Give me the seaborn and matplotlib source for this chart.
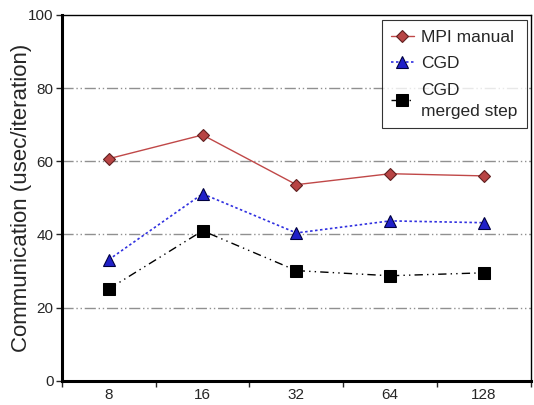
import numpy as np
import pandas as pd
import matplotlib
matplotlib.use("Agg")
import matplotlib.pyplot as plt
import seaborn as sns

# Data
procs = ["8", "16", "32", "64", "128"]
mpi_manual = [60.7, 67.2, 53.6, 56.6, 56.0]
cgd = [33.1, 51.1, 40.4, 43.7, 43.2]
cgd_merged = [25.1, 41.0, 30.1, 28.7, 29.5]

sns.set_style("white")
plt.rcParams['font.family'] = ['Liberation Sans', 'DejaVu Sans']

fig, ax = plt.subplots(figsize=(5.34, 4.05), dpi=100)
fig.subplots_adjust(left=0.116, right=0.994, top=0.963, bottom=0.06)

pos = np.arange(len(procs))
df = pd.DataFrame({"pos": pos, "mpi": mpi_manual, "cgd": cgd, "merged": cgd_merged})

sns.lineplot(data=df, x="pos", y="mpi", ax=ax, color="#c04848", lw=1.0,
             marker="D", markersize=6, markerfacecolor="#b84444",
             markeredgecolor="#602020", markeredgewidth=0.8, label="MPI manual")
sns.lineplot(data=df, x="pos", y="cgd", ax=ax, color="#3030e0", lw=1.2, linestyle=(0, (1.5, 1.5)),
             marker="^", markersize=8, markerfacecolor="#2020c8",
             markeredgecolor="#000040", markeredgewidth=0.8, label="CGD")
sns.lineplot(data=df, x="pos", y="merged", ax=ax, color="black", lw=1.0,
             linestyle=(0, (6, 3, 1, 3, 1, 3)),
             marker="s", markersize=8, markerfacecolor="black",
             markeredgecolor="black", label="CGD\nmerged step")

# gridlines (dash-dot-dot gray)
for yv in [20, 40, 60, 80]:
    ax.axhline(yv, color="#909090", lw=1.0, linestyle=(0, (8, 2, 1, 2, 1, 2)), zorder=0)

ax.set_xlim(-0.5, len(procs) - 0.5)
ax.set_ylim(0, 100)
ax.set_yticks([0, 20, 40, 60, 80, 100])
ax.set_xticks(pos)
ax.set_xticklabels(procs)
ax.set_xticks(np.arange(-0.5, len(procs), 1.0), minor=True)
ax.tick_params(axis="x", which="major", length=0, labelsize=11, pad=5)
ax.tick_params(axis="x", which="minor", length=4, width=1, direction="out", bottom=True)
ax.tick_params(axis="y", length=4, width=1, direction="out", left=True, labelsize=11, pad=2)
ax.set_xlabel("")
ax.set_ylabel("Communication (usec/iteration)", fontsize=16)
ax.yaxis.set_label_coords(-0.064, 0.5)

for side in ["left", "bottom"]:
    ax.spines[side].set_linewidth(2.2)
    ax.spines[side].set_color("black")
for side in ["top", "right"]:
    ax.spines[side].set_linewidth(1.0)
    ax.spines[side].set_color("black")

leg = ax.legend(loc="upper right", fontsize=12.5, frameon=True, fancybox=False,
                edgecolor="black", handlelength=1.3, handletextpad=0.4,
                borderpad=0.55, labelspacing=0.65, borderaxespad=0,
                bbox_to_anchor=(0.991, 0.986))
leg.get_frame().set_linewidth(0.8)
for t in leg.get_texts():
    t.set_linespacing(1.5)

fig.savefig("out.png", dpi=100)
